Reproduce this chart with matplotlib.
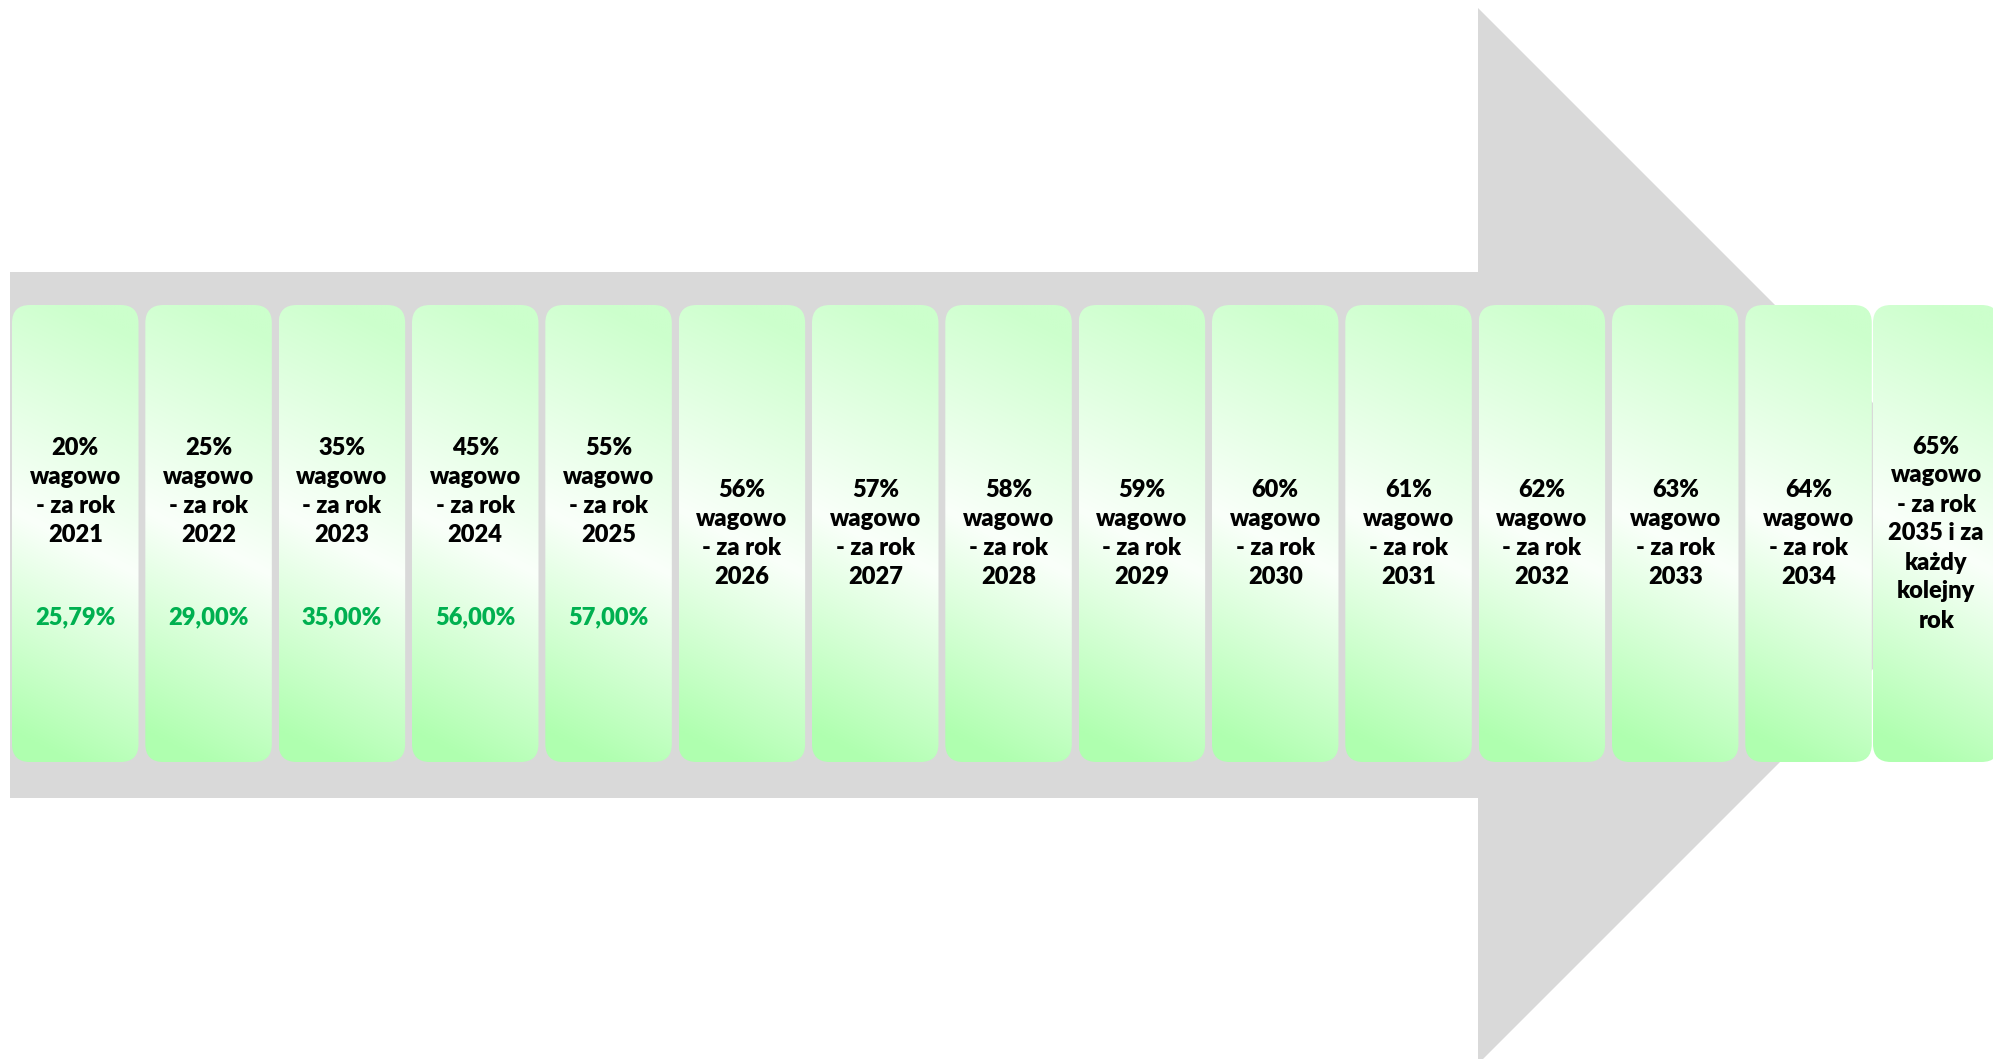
import numpy as np
import matplotlib
matplotlib.use("Agg")
import matplotlib.pyplot as plt
from matplotlib.patches import FancyBboxPatch, Polygon

# ---- data ----
targets = ["20%", "25%", "35%", "45%", "55%", "56%", "57%", "58%", "59%", "60%",
           "61%", "62%", "63%", "64%", "65%"]
years = ["2021", "2022", "2023", "2024", "2025", "2026", "2027", "2028", "2029",
         "2030", "2031", "2032", "2033", "2034", "2035"]
achieved = ["25,79%", "29,00%", "35,00%", "56,00%", "57,00%"]
last_suffix = ["2035 i za", "każdy", "kolejny", "rok"]

W, H = 1993, 1059
fig = plt.figure(figsize=(W / 100, H / 100), dpi=100)
ax = fig.add_axes([0, 0, 1, 1])
ax.set_xlim(0, W)
ax.set_ylim(H, 0)
ax.axis("off")

GREY = "#D9D9D9"
FONT = ["Lato", "DejaVu Sans"]
WEIGHT = "heavy"

# ---- big arrow ----
arrow = Polygon([(10, 272), (1478, 272), (1478, 8), (2006, 536), (1478, 1064),
                 (1478, 798), (10, 798)], closed=True, facecolor=GREY,
                edgecolor="none", zorder=1)
ax.add_patch(arrow)

# ---- gradient for boxes ----
gh, gw = 200, 60
yy, xx = np.mgrid[0:1:gh * 1j, 0:1:gw * 1j]
t = np.clip(yy + 0.14 * (0.5 - xx), 0, 1)
stops = np.array([0.0, 0.52, 1.0])
c_top = np.array([0.80, 1.0, 0.80])
c_mid = np.array([0.98, 1.0, 0.98])
c_bot = np.array([0.69, 1.0, 0.69])
img = np.zeros((gh, gw, 3))
for ch in range(3):
    img[..., ch] = np.interp(t, stops, [c_top[ch], c_mid[ch], c_bot[ch]])

top, bot = 305, 762
bh = bot - top
pitch, bw = 133.33, 126.5
LINE = 29

n = len(targets)
for i in range(n):
    left = 12 + pitch * i if i < n - 1 else 1873
    patch = FancyBboxPatch((left, top), bw, bh,
                           boxstyle="round,pad=0,rounding_size=18",
                           facecolor="none", edgecolor="none", zorder=2)
    ax.add_patch(patch)
    im = ax.imshow(img, extent=(left, left + bw, bot, top), zorder=2,
                   interpolation="bilinear", aspect="auto")
    im.set_clip_path(patch)

    cx = left + bw / 2
    if i < n - 1:
        lines = [targets[i], "wagowo", "- za rok", years[i]]
    else:
        lines = [targets[i], "wagowo", "- za rok"] + last_suffix
    if i < len(achieved):
        cy = 491.5
    else:
        cy = (top + bot) / 2
    m = len(lines)
    for k, ln in enumerate(lines):
        ax.text(cx, cy + (k - (m - 1) / 2) * LINE, ln, ha="center", va="center",
                fontsize=17, fontweight=WEIGHT, color="black", family=FONT,
                zorder=3)
    if i < len(achieved):
        ax.text(cx, 617, achieved[i], ha="center", va="center", fontsize=17,
                fontweight=WEIGHT, color="#00B050", family=FONT, zorder=3)

ax.set_aspect("auto")
fig.savefig("out.png", dpi=100)
